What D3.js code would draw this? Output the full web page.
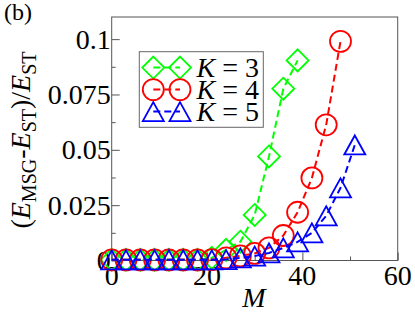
<!DOCTYPE html>
<html>
<head>
<meta charset="utf-8">
<script src="https://cdn.jsdelivr.net/npm/d3@7"></script>
<style>
body { margin: 0; background: #fff; }
text { font-family: "Liberation Serif", "Times New Roman", serif; }
</style>
</head>
<body>
<svg id="viz1"></svg>
<script>
//data, M values step by 3
var M3 = [0, 3, 6, 9, 12, 15, 18, 21, 24, 27, 30, 33, 36, 39]
var E3 = [0.0003, 0.0003, 0.0003, 0.0003, 0.0003, 0.0003, 0.0003, 0.0012, 0.0048, 0.0085, 0.0206, 0.047, 0.0776, 0.0904]
var M4 = [0, 3, 6, 9, 12, 15, 18, 21, 24, 27, 30, 33, 36, 39, 42, 45, 48]
var E4 = [0.0003, 0.0003, 0.0003, 0.0003, 0.0003, 0.0003, 0.0003, 0.0004, 0.0012, 0.0021, 0.0032, 0.0057, 0.0113, 0.0218, 0.0373, 0.0613, 0.099]
var M5 = [0, 3, 6, 9, 12, 15, 18, 21, 24, 27, 30, 33, 36, 39, 42, 45, 48, 51]
var E5 = [0.0003, 0.0003, 0.0003, 0.0003, 0.0003, 0.0003, 0.0003, 0.0003, 0.0004, 0.0012, 0.002, 0.0034, 0.0057, 0.0084, 0.0125, 0.0202, 0.0328, 0.0522]
var Klabels = ["3", "4", "5"]
var colors = ["#00ff00", "#ff0000", "#0000ff"]
var shapes = ["diamond", "circle", "triangle"]
var yTicks = [0, 0.025, 0.05, 0.075, 0.1]
var yTickLabels = ["0", "0.025", "0.05", "0.075", "0.1"]
var xTicks = [0, 20, 40, 60]

var width = 415
var height = 313
var svg = d3.select("#viz1")
	.attr("width", width)
	.attr("height", height)

//plot box (window.top is taken, so pTop etc)
var pLeft = 111.7, pRight = 397.7, pTop = 17, pBottom = 260.5
var x = d3.scaleLinear().domain([0, 60]).range([pLeft, pRight])
var y = d3.scaleLinear().domain([0, 0.11]).range([pBottom, pTop])

var series = [
	{M: M3, E: E3},
	{M: M4, E: E4},
	{M: M5, E: E5}
]

//frame
svg.append("rect")
	.attr("x", pLeft).attr("y", pTop)
	.attr("width", pRight - pLeft).attr("height", pBottom - pTop)
	.attr("fill", "none").attr("stroke", "#555").attr("stroke-width", 1)

//axes, ticks point inwards
var yAxis = d3.axisLeft(y).tickValues(yTicks).tickSize(-8).tickFormat("")
var yMinor = d3.axisLeft(y).tickValues([0.0125, 0.0375, 0.0625, 0.0875]).tickSize(-4).tickFormat("")
var xAxis = d3.axisBottom(x).tickValues(xTicks).tickSize(-8).tickFormat("")
var xMinor = d3.axisBottom(x).tickValues([10, 30, 50]).tickSize(-4).tickFormat("")

svg.append("g").attr("transform", "translate(" + pLeft + ",0)").call(yAxis)
svg.append("g").attr("transform", "translate(" + pLeft + ",0)").call(yMinor)
svg.append("g").attr("transform", "translate(0," + pBottom + ")").call(xAxis)
svg.append("g").attr("transform", "translate(0," + pBottom + ")").call(xMinor)
svg.selectAll(".domain").remove()
svg.selectAll(".tick line").attr("stroke", "#555")

//tick labels
svg.append("g").selectAll("text")
	.data(yTicks)
	.enter()
	.append("text")
	.attr("x", pLeft - 1)
	.attr("y", d => y(d))
	.attr("dy", "0.34em")
	.attr("text-anchor", "end")
	.attr("font-size", 28)
	.text((d, i) => yTickLabels[i])

svg.append("g").selectAll("text")
	.data(xTicks)
	.enter()
	.append("text")
	.attr("x", d => x(d))
	.attr("y", 285)
	.attr("text-anchor", "middle")
	.attr("font-size", 28)
	.text(d => d)

//axis titles
svg.append("text")
	.attr("x", 254).attr("y", 307)
	.attr("text-anchor", "middle")
	.attr("font-size", 28)
	.attr("font-style", "italic")
	.text("M")

var yl = svg.append("text")
	.attr("transform", "translate(30,140) rotate(-90)")
	.attr("text-anchor", "middle")
	.attr("font-size", 28)
yl.append("tspan").text("(")
yl.append("tspan").attr("font-style", "italic").text("E")
yl.append("tspan").attr("font-size", 20).attr("dy", 6).text("MSG")
yl.append("tspan").attr("dy", -6).text("-")
yl.append("tspan").attr("font-style", "italic").text("E")
yl.append("tspan").attr("font-size", 20).attr("dy", 6).text("ST")
yl.append("tspan").attr("dy", -6).text(")/")
yl.append("tspan").attr("font-style", "italic").text("E")
yl.append("tspan").attr("font-size", 20).attr("dy", 6).text("ST")

svg.append("text")
	.attr("x", 4).attr("y", 20)
	.attr("font-size", 24)
	.text("(b)")

//marker drawing
function marker(g, shape, cx, cy, color) {
	if (shape == "circle") {
		g.append("circle").attr("cx", cx).attr("cy", cy).attr("r", 10.5)
			.attr("fill", "none").attr("stroke", color).attr("stroke-width", 1.8)
	} else if (shape == "diamond") {
		var s = 11
		g.append("path")
			.attr("d", "M" + cx + "," + (cy - s) + "L" + (cx + s) + "," + cy + "L" + cx + "," + (cy + s) + "L" + (cx - s) + "," + cy + "Z")
			.attr("fill", "none").attr("stroke", color).attr("stroke-width", 1.8)
	} else {
		var w = 10.5, h = 19
		g.append("path")
			.attr("d", "M" + cx + "," + (cy - h / 2) + "L" + (cx + w) + "," + (cy + h / 2) + "L" + (cx - w) + "," + (cy + h / 2) + "Z")
			.attr("fill", "none").attr("stroke", color).attr("stroke-width", 1.8)
	}
}

var line = d3.line().x(d => x(d[0])).y(d => y(d[1]))

series.forEach(function(s, k) {
	var pts = s.M.map((m, i) => [m, s.E[i]])
	var g = svg.append("g")
	g.append("path")
		.attr("d", line(pts))
		.attr("fill", "none")
		.attr("stroke", colors[k])
		.attr("stroke-width", 2)
		.attr("stroke-dasharray", "7,4")
	pts.forEach(function(p) {
		marker(g, shapes[k], x(p[0]), y(p[1]), colors[k])
	})
})

//legend
var lg = svg.append("g")
lg.append("rect")
	.attr("x", 139.3).attr("y", 51.7)
	.attr("width", 124).attr("height", 75.6)
	.attr("fill", "#fff").attr("stroke", "#666").attr("stroke-width", 1)
Klabels.forEach(function(kl, k) {
	var ly = 67.6 + k * 22
	lg.append("line")
		.attr("x1", 153.3).attr("x2", 180).attr("y1", ly).attr("y2", ly)
		.attr("stroke", colors[k]).attr("stroke-width", 2).attr("stroke-dasharray", "7,4")
	marker(lg, shapes[k], 153.3, ly, colors[k])
	marker(lg, shapes[k], 180, ly, colors[k])
	var t = lg.append("text")
		.attr("x", 196.5).attr("y", ly + 9.8)
		.attr("font-size", 28)
	t.append("tspan").attr("font-style", "italic").text("K")
	t.append("tspan").text(" = " + kl)
})
</script>
</body>
</html>
